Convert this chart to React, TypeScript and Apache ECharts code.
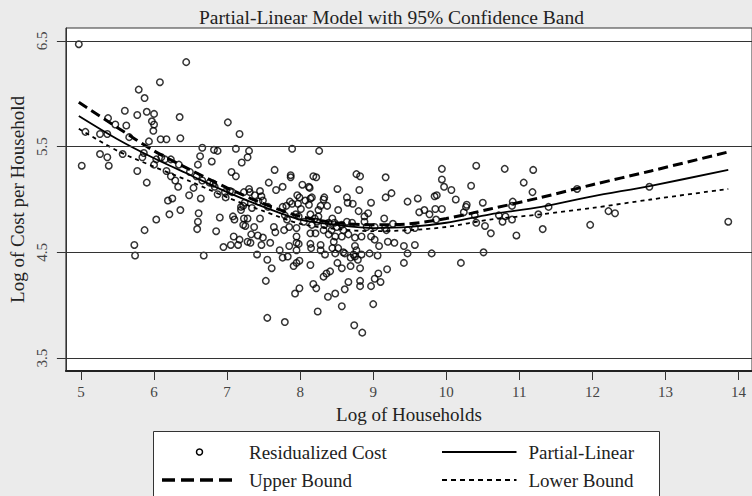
import React, { useEffect, useRef } from "react";
import * as echarts from "echarts";

const FONT = "'Liberation Serif', 'DejaVu Serif', serif";

const titleText = "Partial-Linear Model with 95% Confidence Band";
const xAxisName = "Log of Households";
const yAxisName = "Log of Cost per Household";

const xTicks = [5, 6, 7, 8, 9, 10, 11, 12, 13, 14];
const yTicks = [3.5, 4.5, 5.5, 6.5];

const X_MIN = 4.7932;
const X_MAX = 14.185;
const Y_MIN = 3.377;
const Y_MAX = 6.623;

// fitted curves (x = log of households)
const lineX = [4.97, 5.5, 6.0, 6.5, 7.0, 7.5, 8.0, 8.5, 9.0, 9.5, 10.0, 10.6, 11.3, 12.0, 12.8, 13.86];
const partialLinear = [5.79, 5.57, 5.39, 5.23, 5.07, 4.93, 4.81, 4.76, 4.73, 4.74, 4.78, 4.86, 4.93, 5.03, 5.13, 5.28];
const upperBound = [5.92, 5.68, 5.46, 5.28, 5.11, 4.96, 4.84, 4.78, 4.76, 4.77, 4.82, 4.91, 5.02, 5.14, 5.27, 5.45];
const lowerBound = [5.67, 5.46, 5.31, 5.17, 5.02, 4.89, 4.77, 4.72, 4.70, 4.71, 4.74, 4.81, 4.86, 4.92, 5.00, 5.10];

// residualized cost scatter points [log households, log cost]
const residualPoints: [number, number][] = [
  [4.97, 6.47], [6.44, 6.30], [6.08, 6.11], [5.79, 6.04], [5.87, 5.96], [5.60, 5.84], [5.77, 5.80], [5.90, 5.83],
  [6.00, 5.81], [6.35, 5.78], [5.37, 5.77], [5.47, 5.71], [5.62, 5.70], [5.97, 5.74], [6.00, 5.71], [5.99, 5.65],
  [5.06, 5.64], [5.26, 5.62], [5.36, 5.62], [5.66, 5.59], [5.93, 5.55], [6.09, 5.57], [6.17, 5.57], [6.36, 5.58],
  [6.66, 5.49], [5.26, 5.43], [5.36, 5.40], [5.01, 5.32], [5.38, 5.32], [5.57, 5.43], [5.86, 5.44], [5.84, 5.40],
  [6.00, 5.33], [6.03, 5.38], [6.10, 5.40], [6.15, 5.38], [6.23, 5.38], [6.34, 5.33], [6.63, 5.41], [6.60, 5.33],
  [5.77, 5.27], [6.17, 5.27], [6.23, 5.22], [6.29, 5.18], [5.90, 5.16], [6.33, 5.12], [6.49, 5.26], [6.58, 5.22],
  [6.66, 5.18], [6.54, 5.11], [6.76, 5.16], [6.48, 5.04], [6.64, 5.01], [6.19, 4.99], [6.25, 5.01], [6.21, 4.86],
  [6.36, 4.90], [6.61, 4.87], [6.60, 4.79], [6.59, 4.72], [6.03, 4.81], [5.87, 4.71], [5.73, 4.57], [5.74, 4.47],
  [6.68, 4.47],
  [7.01, 5.73], [7.17, 5.62], [6.82, 5.47], [6.87, 5.46], [7.12, 5.48], [7.30, 5.46], [7.89, 5.48], [6.79, 5.36],
  [7.20, 5.35], [7.28, 5.40], [7.06, 5.26], [7.12, 5.22], [7.65, 5.28], [7.57, 5.16], [7.87, 5.23], [7.87, 5.21],
  [8.03, 5.14], [8.12, 5.12], [7.76, 5.12], [7.67, 5.09], [6.81, 5.15], [6.83, 5.12], [6.87, 5.05], [6.97, 5.07],
  [7.04, 5.08], [7.07, 5.07], [6.98, 5.02], [7.23, 5.07], [7.30, 5.10], [7.31, 5.07], [7.38, 5.04], [7.45, 5.08],
  [7.47, 5.03], [7.49, 4.99], [7.43, 4.98], [7.19, 4.93], [7.22, 4.94], [7.24, 4.97], [7.19, 4.90], [7.34, 4.92],
  [7.56, 4.93], [7.76, 4.93], [7.81, 4.94], [7.86, 4.98], [7.89, 4.96], [7.96, 5.04], [7.99, 5.02], [7.97, 4.96],
  [8.01, 4.91], [8.07, 4.99], [8.12, 4.95], [7.79, 4.85], [7.82, 4.81], [7.94, 4.86], [7.98, 4.84], [8.05, 4.79],
  [6.90, 4.83], [7.08, 4.84], [7.10, 4.81], [7.23, 4.82], [7.28, 4.82], [7.25, 4.75], [7.22, 4.76], [7.45, 4.82],
  [7.37, 4.74], [7.33, 4.67], [7.42, 4.66], [7.49, 4.64], [7.59, 4.59], [7.64, 4.74], [7.66, 4.69], [7.78, 4.71],
  [7.85, 4.74], [7.95, 4.73], [6.85, 4.70], [7.09, 4.65], [7.17, 4.62], [7.15, 4.57], [7.05, 4.57], [6.95, 4.55],
  [7.28, 4.60], [7.32, 4.59], [7.47, 4.57], [7.72, 4.52], [7.76, 4.45], [7.83, 4.46], [7.85, 4.56], [7.95, 4.65],
  [7.95, 4.59], [7.98, 4.58], [7.95, 4.52], [7.41, 4.48], [7.55, 4.43], [7.61, 4.35], [7.53, 4.23], [7.91, 4.37],
  [7.95, 4.40], [7.99, 4.42], [7.93, 4.11], [7.99, 4.16], [7.55, 3.88], [7.79, 3.84],
  [8.26, 5.46], [8.18, 5.22], [8.22, 5.21], [8.77, 5.24], [8.82, 5.22], [9.17, 5.21], [8.13, 5.11], [8.51, 5.10],
  [8.81, 5.09], [8.14, 5.01], [8.16, 5.02], [8.33, 5.02], [8.32, 5.00], [8.64, 5.02], [8.65, 4.97], [8.72, 4.96],
  [8.97, 4.97], [9.17, 5.02], [9.25, 5.06], [9.47, 4.98], [8.28, 4.94], [8.37, 4.94], [8.25, 4.90], [8.52, 4.90],
  [8.80, 4.89], [8.88, 4.84], [8.93, 4.87], [8.14, 4.86], [8.20, 4.82], [8.25, 4.84], [8.23, 4.79], [8.16, 4.76],
  [8.33, 4.76], [8.39, 4.78], [8.44, 4.82], [8.47, 4.78], [8.50, 4.74], [8.57, 4.76], [8.64, 4.79], [8.71, 4.78],
  [8.59, 4.71], [8.88, 4.79], [8.91, 4.74], [9.02, 4.74], [9.15, 4.82], [9.16, 4.73], [9.27, 4.77], [9.18, 4.71],
  [9.47, 4.71], [9.57, 4.73], [8.14, 4.68], [8.21, 4.68], [8.32, 4.71], [8.39, 4.67], [8.43, 4.71], [8.48, 4.65],
  [8.57, 4.65], [8.66, 4.67], [8.75, 4.64], [8.84, 4.65], [8.97, 4.65], [9.02, 4.62], [9.08, 4.56], [9.20, 4.60],
  [9.29, 4.59], [9.42, 4.56], [8.14, 4.58], [8.15, 4.54], [8.28, 4.57], [8.28, 4.52], [8.34, 4.48], [8.46, 4.60],
  [8.44, 4.54], [8.52, 4.54], [8.48, 4.49], [8.59, 4.50], [8.61, 4.49], [8.75, 4.56], [8.77, 4.52], [8.73, 4.48],
  [8.84, 4.48], [8.95, 4.49], [9.06, 4.47], [8.69, 4.45], [8.75, 4.46], [8.79, 4.43], [9.42, 4.40], [9.47, 4.49],
  [8.14, 4.38], [8.51, 4.40], [8.69, 4.37], [8.82, 4.35], [8.41, 4.32], [8.36, 4.30], [8.32, 4.27], [8.57, 4.35],
  [9.19, 4.34], [9.07, 4.30], [9.10, 4.22], [9.02, 4.25], [8.97, 4.18], [8.66, 4.22], [8.82, 4.23], [8.82, 4.18],
  [8.61, 4.15], [8.18, 4.20], [8.22, 4.16], [8.48, 4.11], [8.38, 4.08], [8.57, 3.99], [8.24, 3.94], [9.00, 4.01],
  [8.74, 3.81], [8.85, 3.74],
  [9.94, 5.29], [9.94, 5.19], [9.97, 5.12], [10.41, 5.32], [10.80, 5.29], [11.19, 5.28], [11.06, 5.16], [10.34, 5.13],
  [10.07, 5.09], [10.13, 5.00], [9.61, 5.01], [9.84, 5.03], [9.87, 5.04], [11.18, 5.07], [10.28, 4.95], [10.27, 4.93],
  [10.50, 4.97], [10.91, 4.98], [10.90, 4.94], [9.63, 4.88], [9.70, 4.90], [9.77, 4.86], [9.85, 4.91], [9.94, 4.91],
  [9.86, 4.81], [10.24, 4.88], [10.39, 4.85], [10.41, 4.78], [10.72, 4.85], [10.77, 4.79], [10.81, 4.84], [10.90, 4.81],
  [11.40, 4.93], [11.26, 4.86], [10.53, 4.75], [10.61, 4.68], [10.96, 4.66], [11.32, 4.72], [9.57, 4.57], [9.80, 4.49],
  [10.51, 4.50], [10.20, 4.40],
  [11.79, 5.10], [12.78, 5.12], [11.97, 4.76], [12.22, 4.89], [12.31, 4.87], [13.86, 4.79],
];

const legendLabels = ["Residualized Cost", "Partial-Linear", "Upper Bound", "Lower Bound"];

export default function App() {
  const ref = useRef<HTMLDivElement>(null);

  useEffect(() => {
    if (!ref.current) return;
    const chart = echarts.init(ref.current, undefined, { renderer: "svg" });

    const mk = (ys: number[]) => lineX.map((x, i) => [x, ys[i]]);

    const legendText = (text: string, x: number, y: number) => ({
      type: "text",
      x,
      y,
      z: 101,
      style: { text, fontSize: 19, fontFamily: FONT, fill: "#222", verticalAlign: "middle" },
    });

    const option: any = {
      animation: false,
      backgroundColor: "#ebebeb",
      textStyle: { fontFamily: FONT },
      title: {
        text: titleText,
        left: 194,
        top: 2,
        textStyle: { fontSize: 19.5, fontWeight: "normal", color: "#222", fontFamily: FONT },
      },
      grid: {
        left: 59,
        top: 28,
        right: -2,
        bottom: 125,
        show: true,
        backgroundColor: "#ffffff",
        borderColor: "#333",
        borderWidth: 1,
      },
      xAxis: {
        type: "value",
        min: X_MIN,
        max: X_MAX,
        name: xAxisName,
        nameLocation: "middle",
        nameGap: 34,
        nameTextStyle: { fontSize: 19, color: "#222", fontFamily: FONT },
        axisLine: { show: true, onZero: false, lineStyle: { color: "#222", width: 2 } },
        axisTick: { show: true, length: 9, customValues: xTicks, lineStyle: { color: "#333", width: 1 } },
        axisLabel: {
          customValues: xTicks,
          margin: 13,
          fontSize: 15,
          color: "#444",
          fontFamily: FONT,
          formatter: (v: number) => String(v),
        },
        splitLine: { show: false },
      },
      yAxis: {
        type: "value",
        min: Y_MIN,
        max: Y_MAX,
        name: yAxisName,
        nameLocation: "middle",
        nameGap: 33,
        nameRotate: 90,
        nameTextStyle: { fontSize: 19, color: "#222", fontFamily: FONT },
        axisLine: { show: true, onZero: false, lineStyle: { color: "#333", width: 1 } },
        axisTick: { show: true, length: 9, customValues: yTicks, lineStyle: { color: "#333", width: 1 } },
        axisLabel: {
          customValues: yTicks,
          rotate: 90,
          margin: 16,
          fontSize: 15,
          color: "#444",
          fontFamily: FONT,
          formatter: (v: number) => v.toFixed(1),
        },
        splitLine: { show: false },
      },
      series: [
        {
          name: legendLabels[0],
          type: "scatter",
          data: residualPoints,
          symbol: "circle",
          symbolSize: 6.5,
          itemStyle: { color: "rgba(0,0,0,0)", borderColor: "#000", borderWidth: 1.5 },
          markLine: {
            silent: true,
            symbol: ["none", "none"],
            label: { show: false },
            lineStyle: { color: "#333", width: 1, type: "solid" },
            data: yTicks.map((v) => ({ yAxis: v })),
          },
          z: 3,
        },
        {
          name: legendLabels[1],
          type: "line",
          data: mk(partialLinear),
          symbol: "none",
          smooth: 0.3,
          lineStyle: { color: "#000", width: 1.8, type: "solid" },
          z: 4,
        },
        {
          name: legendLabels[2],
          type: "line",
          data: mk(upperBound),
          symbol: "none",
          smooth: 0.3,
          lineStyle: { color: "#000", width: 3, type: [10, 5] },
          z: 4,
        },
        {
          name: legendLabels[3],
          type: "line",
          data: mk(lowerBound),
          symbol: "none",
          smooth: 0.3,
          lineStyle: { color: "#000", width: 1.8, type: [4, 4] },
          z: 4,
        },
      ],
      graphic: [
        {
          type: "rect",
          z: 100,
          shape: { x: 153.5, y: 431.5, width: 506, height: 90 },
          style: { fill: "#fff", stroke: "#333", lineWidth: 1 },
        },
        {
          type: "circle",
          z: 101,
          shape: { cx: 199.5, cy: 452, r: 3 },
          style: { fill: "none", stroke: "#000", lineWidth: 1.5 },
        },
        legendText(legendLabels[0], 249, 452),
        {
          type: "line",
          z: 101,
          shape: { x1: 442, y1: 452, x2: 516.5, y2: 452 },
          style: { stroke: "#000", lineWidth: 2 },
        },
        legendText(legendLabels[1], 528.5, 452),
        {
          type: "line",
          z: 101,
          shape: { x1: 162, y1: 480, x2: 238, y2: 480 },
          style: { stroke: "#000", lineWidth: 3.5, lineDash: [13, 6] },
        },
        legendText(legendLabels[2], 249, 480),
        {
          type: "line",
          z: 101,
          shape: { x1: 442, y1: 480, x2: 516.5, y2: 480 },
          style: { stroke: "#000", lineWidth: 2, lineDash: [5, 4] },
        },
        legendText(legendLabels[3], 528.5, 480),
      ],
    };

    chart.setOption(option);
    return () => chart.dispose();
  }, []);

  return (
    <div
      ref={ref}
      style={{ position: "fixed", left: 0, top: 0, width: 752, height: 496 }}
    />
  );
}
